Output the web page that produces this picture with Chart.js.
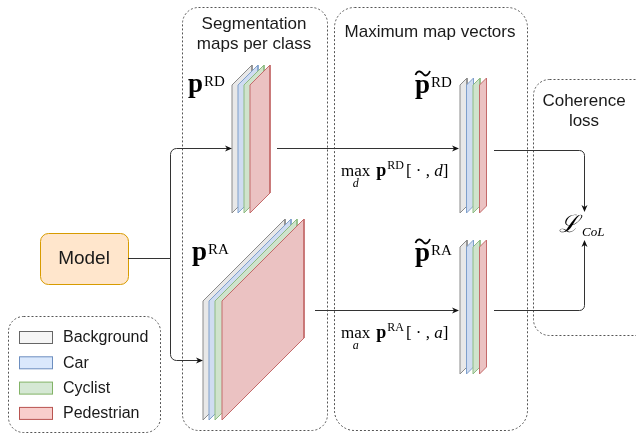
<!DOCTYPE html>
<html>
<head>
<meta charset="utf-8">
<script src="https://cdn.jsdelivr.net/npm/chart.js@4.4.1/dist/chart.umd.min.js"></script>
<style>
  html, body { margin: 0; padding: 0; background: #fff; }
  canvas { display: block; }
</style>
</head>
<body>
<canvas id="diagram" width="636" height="436"></canvas>
<script>
// classes shown in the legend and as stacked maps
const classes = ['Background', 'Car', 'Cyclist', 'Pedestrian'];
const layerFill = ['#e8e8e8', '#cfdcf1', '#cfe3cc', '#ebc2c2'];
const layerLine = ['#8a8a8a', '#7f9fcb', '#8dbb82', '#c46a6a'];
const swatchFill = ['#f5f5f5', '#dae8fc', '#d5e8d4', '#f8cecc'];
const swatchLine = ['#666666', '#6c8ebf', '#82b366', '#b85450'];

// map stacks: front edge x of each class map, front top / bottom, skew depth
const stackFrontX = [
    [232, 238, 244, 250],
    [203, 209, 215, 222],
    [460, 466.5, 473, 479.5],
    [460, 466.5, 473, 479.5]
];
const stackTop = [85, 301, 85, 247];
const stackBottom = [213, 420, 213, 374];
const stackDepth = [20, 82, 7, 7];

// dotted group boxes: x0, y0, x1, y1, corner radius
const groupBoxes = [
    [182, 7, 327, 430, 16],
    [334, 7, 527, 430, 20],
    [533, 79, 660, 335, 16],
    [8, 316, 160, 432, 15]
];

const datasets = [];
stackFrontX.forEach((fronts, s) => {
    fronts.forEach((fx, c) => {
        const d = stackDepth[s];
        datasets.push({
            label: classes[c],
            data: [
                {x: fx, y: stackTop[s]},
                {x: fx + d, y: stackTop[s] - d},
                {x: fx + d, y: stackBottom[s] - d},
                {x: fx, y: stackBottom[s]},
                {x: fx, y: stackTop[s]}
            ],
            showLine: true,
            fill: 'shape',
            backgroundColor: layerFill[c],
            borderColor: layerLine[c],
            borderWidth: 1,
            pointRadius: 0,
            tension: 0,
            order: 3 - c
        });
    });
});

const SANS = '"Liberation Sans", Arial, sans-serif';
const SERIF = '"Liberation Serif", "DejaVu Serif", serif';

const diagram = {
    id: 'diagram',
    beforeDatasetsDraw(chart) {
        const {ctx, scales} = chart;
        const X = v => scales.x.getPixelForValue(v);
        const Y = v => scales.y.getPixelForValue(v);
        ctx.save();

        // dotted groups
        ctx.strokeStyle = '#555';
        ctx.lineWidth = 1;
        ctx.setLineDash([2, 2]);
        groupBoxes.forEach(b => {
            ctx.beginPath();
            ctx.roundRect(X(b[0]) + 0.5, Y(b[1]) + 0.5, X(b[2]) - X(b[0]), Y(b[3]) - Y(b[1]), b[4]);
            ctx.stroke();
        });
        ctx.setLineDash([]);

        // model box
        ctx.fillStyle = '#ffe6cc';
        ctx.strokeStyle = '#d79b00';
        ctx.beginPath();
        ctx.roundRect(X(40) + 0.5, Y(233) + 0.5, X(128) - X(40), Y(284) - Y(233), 8);
        ctx.fill();
        ctx.stroke();
        ctx.fillStyle = '#1a1a1a';
        ctx.font = '19px ' + SANS;
        ctx.textAlign = 'center';
        ctx.textBaseline = 'middle';
        ctx.fillText('Model', X(84), Y(259));

        // group titles
        ctx.font = '17px ' + SANS;
        ctx.fillText('Segmentation', X(254), Y(24));
        ctx.fillText('maps per class', X(254), Y(44));
        ctx.fillText('Maximum map vectors', X(430), Y(32));
        ctx.fillText('Coherence', X(584), Y(101));
        ctx.fillText('loss', X(584), Y(121));

        // legend
        ctx.textAlign = 'left';
        ctx.font = '16px ' + SANS;
        classes.forEach((name, i) => {
            const cy = 337 + i * 25.3;
            ctx.fillStyle = swatchFill[i];
            ctx.strokeStyle = swatchLine[i];
            ctx.fillRect(X(19) + 0.5, Y(cy - 6) + 0.5, 33, 12);
            ctx.strokeRect(X(19) + 0.5, Y(cy - 6) + 0.5, 33, 12);
            ctx.fillStyle = '#1a1a1a';
            ctx.fillText(name, X(63), Y(cy + 1));
        });
        ctx.restore();
    },
    afterDatasetsDraw(chart) {
        const {ctx, scales} = chart;
        const X = v => scales.x.getPixelForValue(v);
        const Y = v => scales.y.getPixelForValue(v);
        ctx.save();
        ctx.strokeStyle = '#333';
        ctx.fillStyle = '#111';
        ctx.lineWidth = 1;

        const poly = (pts, r) => {
            ctx.beginPath();
            ctx.moveTo(X(pts[0][0]), Y(pts[0][1]));
            for (let i = 1; i < pts.length - 1; i++) {
                ctx.arcTo(X(pts[i][0]), Y(pts[i][1]), X(pts[i + 1][0]), Y(pts[i + 1][1]), r);
            }
            const last = pts[pts.length - 1];
            ctx.lineTo(X(last[0]), Y(last[1]));
            ctx.stroke();
        };
        const head = (px, py, dir) => {
            const tx = X(px), ty = Y(py);
            const L = 7, W = 3;
            ctx.beginPath();
            if (dir === 'right') { ctx.moveTo(tx, ty); ctx.lineTo(tx - L, ty - W); ctx.lineTo(tx - L + 2, ty); ctx.lineTo(tx - L, ty + W); }
            if (dir === 'down') { ctx.moveTo(tx, ty); ctx.lineTo(tx - W, ty - L); ctx.lineTo(tx, ty - L + 2); ctx.lineTo(tx + W, ty - L); }
            if (dir === 'up') { ctx.moveTo(tx, ty); ctx.lineTo(tx - W, ty + L); ctx.lineTo(tx, ty + L - 2); ctx.lineTo(tx + W, ty + L); }
            ctx.closePath();
            ctx.fill();
        };

        // model -> both map stacks
        poly([[128, 258.5], [170.5, 258.5]], 0);
        poly([[230, 148.5], [170.5, 148.5], [170.5, 360.5], [201, 360.5]], 6);
        head(232, 148.5, 'right');
        head(203, 360.5, 'right');

        // maps -> max vectors
        poly([[277, 148.5], [456, 148.5]], 0);
        head(459, 148.5, 'right');
        poly([[315, 310.5], [456, 310.5]], 0);
        head(459, 310.5, 'right');

        // vectors -> loss
        poly([[494, 150.5], [584.5, 150.5], [584.5, 208]], 5);
        head(584.5, 212, 'down');
        poly([[494, 310.5], [584.5, 310.5], [584.5, 244]], 5);
        head(584.5, 240, 'up');

        // math labels
        ctx.fillStyle = '#000';
        ctx.strokeStyle = '#000';
        ctx.textBaseline = 'alphabetic';
        ctx.textAlign = 'left';
        const bold = s => 'bold ' + s + 'px ' + SERIF;
        const reg = s => s + 'px ' + SERIF;
        const ital = s => 'italic ' + s + 'px ' + SERIF;

        const pLabel = (x0, base, sup, tilde) => {
            ctx.font = bold(27);
            ctx.fillText('p', X(x0), Y(base));
            const w = ctx.measureText('p').width;
            if (tilde) {
                // wide tilde accent above the bold p
                const ty = base - 20;
                ctx.lineWidth = 1.8;
                ctx.beginPath();
                ctx.moveTo(X(x0 + 0.5), Y(ty + 2));
                ctx.bezierCurveTo(X(x0 + w * 0.2), Y(ty - 4), X(x0 + w * 0.45), Y(ty - 1), X(x0 + w * 0.55), Y(ty + 1));
                ctx.bezierCurveTo(X(x0 + w * 0.7), Y(ty + 4), X(x0 + w * 0.9), Y(ty + 2), X(x0 + w), Y(ty - 2));
                ctx.stroke();
                ctx.lineWidth = 1;
            }
            ctx.font = reg(15);
            ctx.fillText(sup, X(x0 + w + 1), Y(base - 6));
        };
        pLabel(188, 92, 'RD', false);
        pLabel(192, 260, 'RA', false);
        pLabel(415, 93, 'RD', true);
        pLabel(415, 261, 'RA', true);

        const maxLabel = (x0, base, sup, idx) => {
            let x = x0;
            ctx.font = reg(17);
            ctx.fillText('max', X(x), Y(base));
            const mw = ctx.measureText('max').width;
            ctx.font = ital(12);
            ctx.textAlign = 'center';
            ctx.fillText(idx, X(x + mw / 2), Y(base + 11));
            ctx.textAlign = 'left';
            x += mw + 6;
            ctx.font = bold(18);
            ctx.fillText('p', X(x), Y(base));
            x += ctx.measureText('p').width + 1;
            ctx.font = reg(12);
            ctx.fillText(sup, X(x), Y(base - 7));
            x += ctx.measureText(sup).width + 2;
            ctx.font = reg(17);
            ctx.fillText('[ \u00B7 , ', X(x), Y(base));
            x += ctx.measureText('[ \u00B7 , ').width;
            ctx.font = ital(17);
            ctx.fillText(idx, X(x), Y(base));
            x += ctx.measureText(idx).width;
            ctx.font = reg(17);
            ctx.fillText(']', X(x), Y(base));
        };
        maxLabel(341, 176, 'RD', 'd');
        maxLabel(341, 338, 'RA', 'a');

        // coherence loss symbol
        ctx.font = 'italic 24px "DejaVu Serif", serif';
        ctx.fillText('\u2112', X(559), Y(232));
        ctx.font = ital(13);
        ctx.fillText('CoL', X(582), Y(236));
        ctx.restore();
    }
};

new Chart(document.getElementById('diagram'), {
    type: 'scatter',
    data: { datasets: datasets },
    options: {
        responsive: false,
        animation: false,
        events: [],
        layout: { padding: 0 },
        plugins: { legend: { display: false }, tooltip: { enabled: false } },
        scales: {
            x: { type: 'linear', min: 0, max: 636, display: false },
            y: { type: 'linear', min: 0, max: 436, reverse: true, display: false }
        }
    },
    plugins: [diagram]
});
</script>
</body>
</html>
